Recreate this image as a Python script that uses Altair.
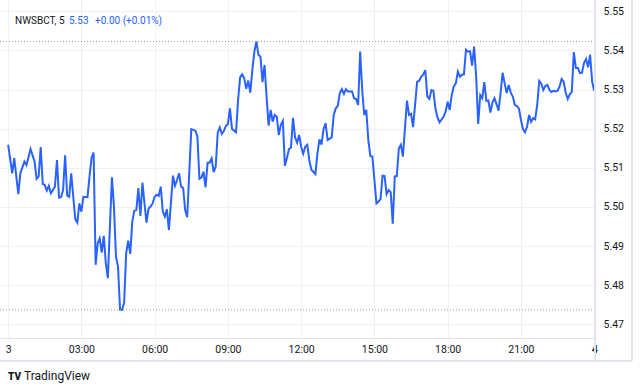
import altair as alt
import pandas as pd

# minutes after midnight (5-minute bars) and price
minutes = [0, 10, 15, 25, 30, 40, 45, 55, 65, 70, 75, 80, 85, 90, 95, 100, 105, 115, 120, 125,
           130, 135, 140, 145, 150, 155, 160, 165, 170, 175, 180, 185, 195, 200, 205, 210, 215, 220, 225, 230,
           235, 240, 245, 255, 260, 265, 270, 275, 280, 285, 290, 295, 300, 305, 310, 315, 320, 325, 330, 335,
           340, 345, 350, 355, 360, 365, 370, 375, 380, 385, 390, 395, 405, 410, 415, 420, 425, 430, 435, 440,
           450, 460, 465, 470, 475, 480, 485, 490, 495, 500, 505, 510, 515, 520, 525, 530, 535, 540, 545, 550,
           555, 560, 565, 570, 575, 580, 585, 590, 595, 600, 605, 610, 615, 620, 625, 630, 635, 640, 645, 650,
           655, 660, 665, 670, 675, 680, 685, 690, 695, 700, 705, 710, 715, 720, 725, 730, 735, 740, 745, 750,
           755, 760, 765, 770, 775, 780, 785, 795, 800, 805, 810, 815, 820, 825, 830, 835, 845, 850, 855, 860,
           865, 870, 875, 880, 885, 890, 895, 905, 910, 915, 920, 925, 930, 935, 940, 945, 950, 955, 960, 965,
           970, 980, 985, 990, 995, 1005, 1010, 1015, 1020, 1025, 1030, 1035, 1040, 1045, 1050, 1055, 1060, 1070, 1075, 1080,
           1085, 1090, 1095, 1100, 1105, 1110, 1115, 1120, 1125, 1130, 1135, 1140, 1145, 1150, 1155, 1160, 1165, 1170, 1175, 1180,
           1185, 1190, 1195, 1200, 1205, 1210, 1215, 1220, 1225, 1230, 1235, 1240, 1245, 1250, 1255, 1260, 1265, 1270, 1275, 1280,
           1285, 1290, 1295, 1300, 1305, 1310, 1315, 1320, 1325, 1330, 1335, 1340, 1345, 1350, 1355, 1360, 1365, 1370, 1375, 1380,
           1385, 1390, 1395, 1400, 1405, 1410, 1415, 1420, 1425, 1430, 1435, 1440]

prices = [5.5159, 5.5086, 5.5125, 5.5033, 5.5086, 5.5116, 5.5107, 5.5148, 5.5116, 5.5072, 5.5078, 5.5153, 5.5059, 5.5056, 5.5042, 5.5054, 5.5035, 5.5052, 5.5120, 5.5024,
          5.5025, 5.5043, 5.5132, 5.5029, 5.5026, 5.5086, 5.5026, 5.4969, 5.4960, 5.5009, 5.4988, 5.5026, 5.5025, 5.5078, 5.5126, 5.5139, 5.4852, 5.4907, 5.4920, 5.4883,
          5.4926, 5.4856, 5.4818, 5.5076, 5.5001, 5.4873, 5.4847, 5.4737, 5.4737, 5.4755, 5.4882, 5.4914, 5.4880, 5.4962, 5.4990, 5.4992, 5.5048, 5.4977, 5.5062, 5.5009,
          5.4960, 5.4996, 5.5001, 5.5009, 5.5026, 5.5031, 5.5028, 5.5052, 5.4988, 5.4975, 5.4994, 5.4941, 5.5080, 5.5054, 5.5069, 5.5086, 5.5052, 5.5049, 5.4992, 5.4974,
          5.5199, 5.5195, 5.5180, 5.5072, 5.5075, 5.5090, 5.5050, 5.5113, 5.5113, 5.5124, 5.5089, 5.5103, 5.5190, 5.5203, 5.5187, 5.5194, 5.5207, 5.5212, 5.5252, 5.5200,
          5.5195, 5.5191, 5.5274, 5.5331, 5.5339, 5.5329, 5.5302, 5.5323, 5.5292, 5.5350, 5.5397, 5.5423, 5.5389, 5.5384, 5.5319, 5.5363, 5.5282, 5.5208, 5.5248, 5.5218,
          5.5235, 5.5231, 5.5184, 5.5210, 5.5220, 5.5105, 5.5125, 5.5148, 5.5152, 5.5228, 5.5178, 5.5164, 5.5184, 5.5154, 5.5136, 5.5154, 5.5159, 5.5120, 5.5095, 5.5090,
          5.5084, 5.5137, 5.5173, 5.5159, 5.5199, 5.5214, 5.5171, 5.5178, 5.5235, 5.5252, 5.5258, 5.5291, 5.5301, 5.5289, 5.5301, 5.5295, 5.5295, 5.5278, 5.5276, 5.5261,
          5.5397, 5.5299, 5.5235, 5.5248, 5.5171, 5.5130, 5.5129, 5.5009, 5.5014, 5.5020, 5.5080, 5.5079, 5.5033, 5.5043, 5.5038, 5.4957, 5.5078, 5.5079, 5.5150, 5.5159,
          5.5129, 5.5272, 5.5235, 5.5238, 5.5204, 5.5320, 5.5322, 5.5333, 5.5338, 5.5350, 5.5282, 5.5276, 5.5299, 5.5297, 5.5251, 5.5229, 5.5216, 5.5231, 5.5244, 5.5269,
          5.5248, 5.5286, 5.5308, 5.5316, 5.5346, 5.5333, 5.5338, 5.5339, 5.5402, 5.5397, 5.5398, 5.5361, 5.5410, 5.5333, 5.5212, 5.5286, 5.5278, 5.5319, 5.5271, 5.5272,
          5.5241, 5.5267, 5.5278, 5.5263, 5.5246, 5.5291, 5.5343, 5.5316, 5.5291, 5.5312, 5.5292, 5.5282, 5.5261, 5.5258, 5.5252, 5.5223, 5.5199, 5.5191, 5.5205, 5.5235,
          5.5218, 5.5227, 5.5224, 5.5261, 5.5322, 5.5315, 5.5299, 5.5309, 5.5312, 5.5299, 5.5294, 5.5297, 5.5295, 5.5297, 5.5308, 5.5327, 5.5320, 5.5292, 5.5276, 5.5288,
          5.5294, 5.5396, 5.5355, 5.5355, 5.5342, 5.5343, 5.5368, 5.5378, 5.5357, 5.5389, 5.5320, 5.5297]

tick_minutes = [0, 180, 360, 540, 720, 900, 1080, 1260, 1440]
tick_labels = ["3", "03:00", "06:00", "09:00", "12:00", "15:00", "18:00", "21:00", "4"]
price_ticks = [5.47, 5.48, 5.49, 5.50, 5.51, 5.52, 5.53, 5.54, 5.55]

symbol_text = "NWSBCT, 5"
last_text = "5.53"
change_text = "+0.00 (+0.01%)"
brand_text = "TradingView"

df = pd.DataFrame({"t": minutes, "p": prices})

FONT = "Roboto"
TXT = "#131722"
GRID = "#eef0f3"
BORDER = "#e0e3eb"
BLUE = "#2962ff"

label_expr = "".join(f"datum.value == {m} ? '{l}' : " for m, l in zip(tick_minutes, tick_labels)) + "''"

xscale = alt.Scale(domain=[-20, 1442], nice=False, zero=False)
yscale = alt.Scale(domain=[5.4665, 5.5529], nice=False, zero=False)

base = alt.Chart(df)

line = base.mark_line(color=BLUE, strokeWidth=2).encode(
    x=alt.X("t:Q", scale=xscale,
            axis=alt.Axis(values=tick_minutes, labelExpr=label_expr, title=None,
                          grid=True, gridColor=GRID, gridWidth=1,
                          domain=True, domainColor=BORDER, ticks=False, tickSize=0,
                          labelPadding=6, labelFont=FONT, labelFontSize=10.5,
                          labelColor=TXT, labelFlush=False, labelOverlap=False,
                          labelFontWeight={"condition": {"test": "datum.value == 1440", "value": "bold"},
                                           "value": "normal"})),
    y=alt.Y("p:Q", scale=yscale,
            axis=alt.Axis(orient="right", values=price_ticks, format=".2f", title=None,
                          grid=True, gridColor=GRID, gridWidth=1,
                          domain=False, ticks=False, tickSize=0, labelPadding=8,
                          labelFont=FONT, labelFontSize=10.5, labelColor=TXT,
                          labelFlush=False, labelOverlap=False)),
)

hi = base.mark_rule(color="#9598a1", strokeDash=[1, 2], strokeWidth=1).encode(y="max(p):Q")
lo = base.mark_rule(color="#9598a1", strokeDash=[1, 2], strokeWidth=1).encode(y="min(p):Q")

right_border = base.mark_rule(color=BORDER, strokeWidth=1).encode(
    x=alt.value(595), y=alt.value(0), y2=alt.value(361))
outer_right = base.mark_rule(color=BORDER, strokeWidth=1).encode(
    x=alt.value(632), y=alt.value(0), y2=alt.value(361))
bottom_border = base.mark_rule(color=BORDER, strokeWidth=1).encode(
    x=alt.value(0), x2=alt.value(632), y=alt.value(361))

def label(text, x, y, color=TXT, size=10.5, weight="normal"):
    return alt.Chart(pd.DataFrame({"s": [text]})).mark_text(
        align="left", baseline="alphabetic", font=FONT, fontSize=size,
        fontWeight=weight, color=color).encode(
        text="s:N", x=alt.value(x), y=alt.value(y))

title1 = label(symbol_text, 15, 24, size=10)
title2 = label(last_text, 69, 24, color=BLUE, size=10)
title3 = label(change_text, 95, 24, color=BLUE, size=10)
logo = label("TV", 8, 380, size=10, weight=900)
brand = label(brand_text, 24, 380, size=12)

chart = alt.layer(line, hi, lo, right_border, outer_right, bottom_border,
                  title1, title2, title3, logo, brand).properties(
    width=595, height=338,
    padding={"left": 0, "top": 0, "right": 45, "bottom": 53},
    autosize=alt.AutoSizeParams(type="none"),
    background="white",
).configure_view(stroke=None)

chart.save("out.html", embed_options={"renderer": "svg", "actions": False})
